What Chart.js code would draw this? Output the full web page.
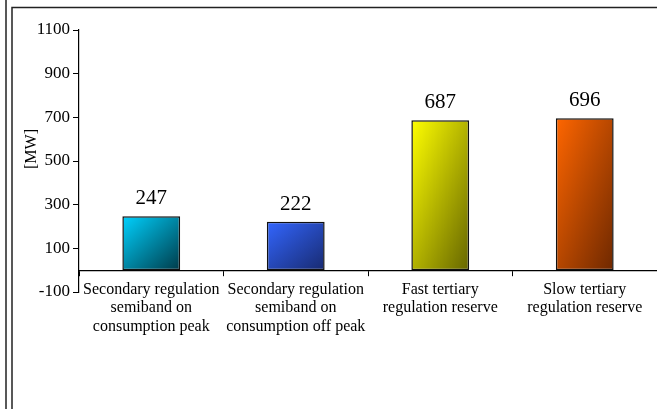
<!DOCTYPE html>
<html>
<head>
<meta charset="utf-8">
<script src="https://cdn.jsdelivr.net/npm/chart.js@4/dist/chart.umd.min.js"></script>
<style>
  html, body { margin: 0; padding: 0; background: #fff; }
  #wrap { position: relative; width: 657px; height: 409px; }
</style>
</head>
<body>
<div id="wrap"><canvas id="c" width="657" height="409"></canvas></div>
<script>
const categories = [
  ["Secondary regulation", "semiband on", "consumption peak"],
  ["Secondary regulation", "semiband on", "consumption off peak"],
  ["Fast tertiary", "regulation reserve"],
  ["Slow tertiary", "regulation reserve"]
];
const values = [247, 222, 687, 696];
const yTicks = { min: -100, max: 1100, step: 200 };
const yTitle = "[MW]";
const gradStart = ["#00d2ff", "#3366ff", "#ffff00", "#ff6600"];
const gradEnd   = ["#003a48", "#182a70", "#666600", "#6e2800"];

const SERIF = "'Liberation Serif', 'Times New Roman', serif";
const BAR_PCT = 0.4;

function barGradient(ctx) {
  const chart = ctx.chart;
  const xs = chart.scales && chart.scales.x, ys = chart.scales && chart.scales.y;
  const i = ctx.dataIndex;
  if (!chart.chartArea || !xs || !ys || i === undefined) return gradStart[i || 0];
  const cx = xs.getPixelForValue(i);
  const w = xs.width / categories.length * BAR_PCT;
  const top = ys.getPixelForValue(values[i]);
  const base = ys.getPixelForValue(0);
  const h = base - top;
  const cy = (top + base) / 2;
  const k = (w * h) / (w * w + h * h);
  const g = chart.ctx.createLinearGradient(cx - k * h, cy - k * w, cx + k * h, cy + k * w);
  g.addColorStop(0, gradStart[i]);
  g.addColorStop(1, gradEnd[i]);
  return g;
}

const framePlugin = {
  id: 'frame',
  beforeDraw(chart) {
    const c = chart.ctx;
    c.save();
    c.fillStyle = '#fff';
    c.fillRect(0, 0, chart.width, chart.height);
    c.strokeStyle = '#222';
    c.lineWidth = 1.5;
    c.beginPath();
    c.moveTo(6, 0); c.lineTo(6, chart.height);
    c.moveTo(12, 7.5); c.lineTo(12, chart.height);
    c.moveTo(11.25, 7.5); c.lineTo(chart.width, 7.5);
    c.stroke();
    c.restore();
  }
};

const yTitlePlugin = {
  id: 'yTitle',
  afterDraw(chart) {
    const c = chart.ctx;
    const a = chart.chartArea;
    c.save();
    c.translate(32, (a.top + a.bottom) / 2 - 12);
    c.rotate(-Math.PI / 2);
    c.font = "16px " + SERIF;
    c.fillStyle = '#000';
    c.textAlign = 'center';
    c.textBaseline = 'middle';
    c.fillText(yTitle, 0, 0);
    c.restore();
  }
};

const labelPlugin = {
  id: 'valueLabels',
  afterDatasetsDraw(chart) {
    const c = chart.ctx;
    const meta = chart.getDatasetMeta(0);
    c.save();
    c.font = "21px " + SERIF;
    c.fillStyle = '#000';
    c.textAlign = 'center';
    c.textBaseline = 'alphabetic';
    meta.data.forEach((bar, i) => {
      c.fillText(String(values[i]), bar.x, bar.y - 12);
    });
    c.restore();
  }
};

new Chart(document.getElementById('c'), {
  type: 'bar',
  data: {
    labels: categories,
    datasets: [{
      data: values,
      backgroundColor: barGradient,
      borderColor: '#111',
      borderWidth: 1.5,
      borderSkipped: false,
      barPercentage: BAR_PCT,
      categoryPercentage: 1
    }]
  },
  options: {
    responsive: false,
    animation: false,
    devicePixelRatio: 1,
    layout: { padding: { left: 12, right: 0, top: 30, bottom: 117 } },
    plugins: { legend: { display: false }, tooltip: { enabled: false } },
    scales: {
      x: {
        position: { y: 0 },
        offset: true,
        grid: { display: true, drawOnChartArea: false, offset: true, tickLength: 5, color: '#000', lineWidth: 1 },
        border: { display: true, color: '#000', width: 1.2 },
        ticks: { color: '#000', font: { family: SERIF, size: 16, lineHeight: 1.13 }, maxRotation: 0, autoSkip: false, padding: 6 }
      },
      y: {
        min: yTicks.min,
        max: yTicks.max,
        afterFit(scale) { scale.width = 67; },
        ticks: {
          stepSize: yTicks.step,
          color: '#000',
          font: { family: SERIF, size: 17 },
          padding: 3,
          callback: (v) => String(v)
        },
        grid: { display: true, drawOnChartArea: false, tickLength: 6, color: '#000', lineWidth: 1 },
        border: { display: true, color: '#000', width: 1.2 },
        title: { display: false }
      }
    }
  },
  plugins: [framePlugin, labelPlugin, yTitlePlugin]
});
</script>
</body>
</html>
